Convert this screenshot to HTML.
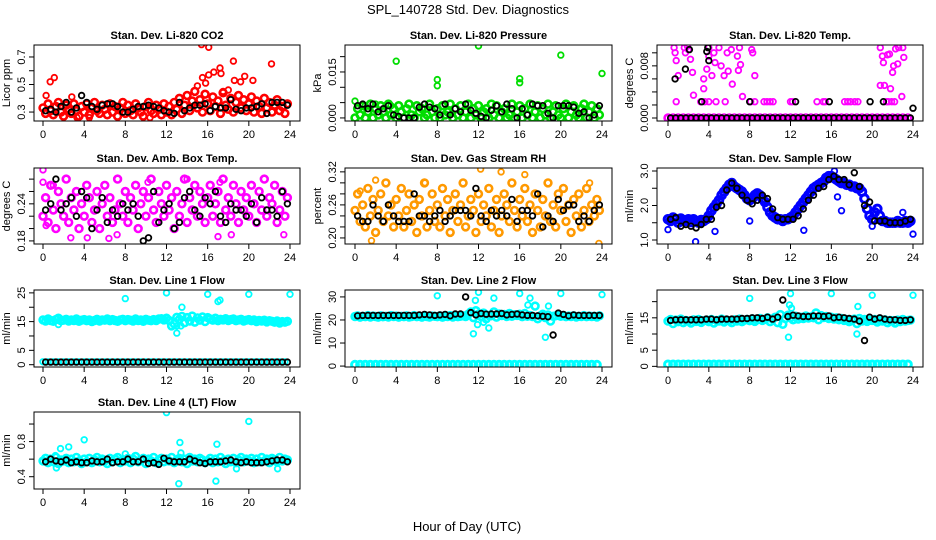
<!DOCTYPE html>
<html><head><meta charset="utf-8"><style>
html,body{margin:0;padding:0;background:#fff}
svg{display:block;font-family:"Liberation Sans",sans-serif}
</style></head><body>
<svg id="chart" width="936" height="540" viewBox="0 0 936 540">
<text x="468" y="14" text-anchor="middle" font-size="13">SPL_140728  Std. Dev. Diagnostics</text>
<text x="467" y="531" text-anchor="middle" font-size="13">Hour of Day (UTC)</text>
<g id="panels"></g>
</svg>
<script>
const cStep = 0.25;
const kStep = 0.5;
const xTicks = [0,4,8,12,16,20,24];

const co2C = [0.33,0.29,0.36,0.31,0.28,0.34,0.37,0.30,0.27,0.35,0.32,0.29,0.36,0.31,0.27,0.34,
0.30,0.36,0.28,0.33,0.37,0.31,0.29,0.35,0.32,0.28,0.36,0.30,0.34,0.27,0.33,0.37,
0.29,0.35,0.31,0.28,0.36,0.33,0.30,0.27,0.34,0.37,0.31,0.29,0.35,0.32,0.28,0.36,
0.30,0.34,0.28,0.37,0.32,0.40,0.29,0.35,0.42,0.31,0.38,0.45,0.33,0.39,0.30,0.43,
0.36,0.31,0.41,0.34,0.38,0.29,0.44,0.35,0.32,0.40,0.30,0.37,0.42,0.33,0.39,0.31,
0.36,0.41,0.30,0.38,0.34,0.29,0.40,0.33,0.37,0.30,0.35,0.39,0.31,0.34,0.29,0.36];
const co2O = [[0.3,0.42],[0.7,0.52],[1.1,0.55],[2.8,0.41],[3.3,0.26],[15.4,0.79],[16.1,0.77],[15.5,0.55],[15.8,0.51],[16.1,0.57],[16.6,0.59],[17.2,0.62],[17.3,0.58],[18.5,0.67],[18.6,0.53],[19.2,0.52],[19.6,0.56],[20.4,0.53],[22.2,0.65],[15,0.49],[17.5,0.45],[18,0.46],[10.4,0.26],[4.5,0.26]];
const co2K = [0.31,0.32,0.30,0.34,0.37,0.30,0.33,0.42,0.37,0.34,0.32,0.35,0.36,0.36,0.34,0.30,0.30,0.32,0.34,0.34,0.35,0.34,0.33,0.31,0.30,0.29,0.37,0.31,0.33,0.35,0.35,0.36,0.31,0.34,0.33,0.33,0.39,0.32,0.31,0.33,0.33,0.34,0.36,0.29,0.37,0.37,0.37,0.35];

const presC = [0,0.003,0.001,0.004,0,0.002,0.0045,0,0.003,0.001,0.004,0.002,0,0.0045,0.001,0.003,
0,0.004,0.002,0,0.003,0.0045,0.001,0,0.004,0.002,0.003,0,0.001,0.0045,0.002,0,
0.003,0,0.004,0.001,0.002,0.0045,0,0.003,0.001,0.004,0,0.002,0.0045,0,0.003,0.001,
0.004,0,0.002,0.003,0,0.0045,0.001,0.004,0,0.002,0.003,0,0.001,0.0045,0,0.002,
0.004,0,0.003,0.001,0.0045,0,0.002,0.004,0,0.003,0.001,0.0045,0,0.002,0.004,0.001,
0,0.003,0.0045,0,0.002,0.004,0.001,0,0.003,0.0045,0,0.002,0.004,0,0.003,0.001];
const presO = [[0,0.0055],[4,0.0185],[8,0.0125],[8,0.0105],[12,0.0235],[16,0.0115],[16,0.0128],[20,0.0205],[24,0.0145],[1,0.004],[2,0.0045],[3.5,0.004]];
const presK = [0.004,0.0045,0.003,0.0045,0.002,0.003,0.004,0.001,0.0005,0,0,0,0.0035,0.0045,0.0035,0.003,0.001,0.0045,0.001,0.003,0.002,0.0045,0.0025,0.0015,0.0005,0,0.0025,0.004,0.002,0.0045,0.003,0,0.003,0.001,0.0045,0.004,0.004,0.0015,0,0.004,0.004,0.004,0.0035,0.0015,0.002,0,0.001,0.004];

const tempC = [0,0,0,0,0,0,0,0,0,0,0,0,0,0,0,0,0,0,0,0,0,0,0,0,0,0,0,0,0,0,0,0,0,0,0,0,0,0,0,0,0,0,0,0,0,0,0,0];
const tempMidX = [0.8,3.2,3.6,4,4.7,5.6,8.1,8.5,9.4,9.7,10,10.3,12,12.2,14.6,15.2,15.4,17.3,17.6,17.9,18.3,18.6,21.4,21.6,21.9,22.2];
const tempMidY = [0.0025,0.0025,0.0025,0.0025,0.0025,0.0025,0.0025,0.0025,0.0025,0.0025,0.0025,0.0025,0.0025,0.0025,0.0025,0.0025,0.0025,0.0025,0.0025,0.0025,0.0025,0.0025,0.0025,0.0025,0.0025,0.0025];
const tempO = [[0.6,0.0108],[0.7,0.0100],[0.8,0.0088],[1.0,0.0065],[1.6,0.0108],[1.7,0.0100],[1.9,0.0110],[2.0,0.0105],[2.2,0.0090],[2.4,0.0070],[2.5,0.0035],[3.5,0.0045],[3.5,0.0060],[3.8,0.0075],[4.0,0.0108],[4.0,0.0095],[4.3,0.0065],[4.5,0.0100],[4.6,0.0085],[5.0,0.0108],[5.2,0.0080],[5.5,0.0065],[5.8,0.0100],[5.9,0.0072],[6.2,0.0105],[6.3,0.0052],[6.8,0.0095],[6.9,0.0073],[7.0,0.0108],[7.1,0.0082],[7.3,0.0033],[8.2,0.0105],[8.3,0.0100],[8.5,0.0065],[20.8,0.0108],[21,0.0095],[21.1,0.0085],[20.8,0.005],[21.2,0.005],[21.5,0.0097],[21.7,0.0098],[21.8,0.0045],[22,0.007],[22.1,0.0080],[22.3,0.0106],[22.5,0.0083],[22.6,0.0108],[22.9,0.0033],[23,0.0108],[23.1,0.0093]];
const tempK = [0,0,0,0,0,0,0,0,0,0,0,0,0,0,0,0,0,0,0,0,0,0,0,0,0,0,0,0,0,0,0,0,0,0,0,0,0,0,0,0,0,0,0,0,0,0,0,0];
const tempKO = [[0.7,0.006],[1.7,0.0075],[2.1,0.0105],[3.3,0.0025],[3.9,0.0108],[3.8,0.0102],[4.0,0.0088],[8.0,0.0025],[12.5,0.0025],[15.8,0.0025],[19.8,0.0025],[21.1,0.0025],[24,0.0015]];

const ambC = [0.22,0.25,0.21,0.27,0.23,0.20,0.26,0.24,0.22,0.28,0.21,0.25,0.23,0.26,0.20,0.24,
0.22,0.27,0.25,0.21,0.23,0.26,0.20,0.24,0.27,0.22,0.25,0.21,0.23,0.28,0.24,0.22,
0.26,0.21,0.25,0.23,0.27,0.20,0.24,0.26,0.22,0.25,0.28,0.23,0.21,0.26,0.24,0.22,
0.27,0.23,0.25,0.20,0.26,0.22,0.24,0.28,0.21,0.25,0.23,0.27,0.22,0.26,0.24,0.21,
0.25,0.27,0.22,0.24,0.26,0.21,0.28,0.23,0.25,0.22,0.27,0.24,0.21,0.26,0.23,0.25,
0.22,0.27,0.24,0.21,0.26,0.23,0.28,0.22,0.25,0.24,0.27,0.21,0.23,0.26,0.22,0.25];
const ambO = [[0,0.295],[0,0.275],[0.3,0.205],[2.7,0.185],[4.3,0.185],[6.4,0.184],[7.2,0.19],[10.2,0.275],[17,0.187],[18.3,0.19],[23.4,0.19],[1,0.27],[14,0.28],[17.2,0.275]];
const ambK = [0.23,0.24,0.28,0.23,0.24,0.25,0.22,0.26,0.25,0.20,0.23,0.25,0.21,0.23,0.22,0.24,0.23,0.24,0.22,0.18,0.185,0.26,0.21,0.23,0.24,0.20,0.21,0.25,0.26,0.23,0.22,0.25,0.24,0.26,0.22,0.21,0.24,0.23,0.23,0.22,0.24,0.21,0.25,0.23,0.23,0.22,0.26,0.24];

const rhC = [0.25,0.28,0.23,0.26,0.22,0.29,0.24,0.27,0.21,0.25,0.28,0.23,0.30,0.24,0.26,0.22,
0.27,0.24,0.29,0.22,0.25,0.28,0.23,0.26,0.21,0.27,0.24,0.30,0.22,0.25,0.28,0.23,
0.26,0.22,0.29,0.24,0.27,0.21,0.25,0.28,0.23,0.26,0.30,0.22,0.24,0.27,0.25,0.21,
0.28,0.23,0.26,0.24,0.29,0.22,0.25,0.27,0.21,0.24,0.28,0.26,0.23,0.30,0.25,0.22,
0.27,0.24,0.29,0.23,0.26,0.21,0.28,0.25,0.22,0.27,0.24,0.30,0.23,0.26,0.22,0.28,
0.25,0.29,0.23,0.26,0.21,0.27,0.24,0.28,0.22,0.25,0.29,0.23,0.26,0.24,0.27,0.25];
const rhO = [[1.6,0.195],[12.2,0.325],[14.2,0.32],[16.5,0.315],[2,0.305],[23.7,0.19],[22.8,0.30],[0.5,0.285],[6.8,0.30]];
const rhK = [0.24,0.23,0.23,0.26,0.24,0.23,0.26,0.24,0.23,0.23,0.23,0.28,0.24,0.24,0.23,0.24,0.25,0.23,0.24,0.25,0.25,0.25,0.24,0.29,0.24,0.23,0.25,0.24,0.25,0.24,0.27,0.23,0.25,0.25,0.24,0.28,0.22,0.24,0.23,0.27,0.25,0.26,0.26,0.23,0.24,0.23,0.25,0.26];

const flowC = [1.6,1.55,1.65,1.6,1.5,1.62,1.58,1.55,1.6,1.52,1.6,1.55,1.5,1.58,1.55,1.6,
1.7,1.85,1.95,2.05,2.15,2.3,2.4,2.5,2.6,2.65,2.55,2.5,2.45,2.4,2.3,2.2,
2.15,2.2,2.3,2.35,2.3,2.2,2.1,1.95,1.8,1.7,1.65,1.6,1.6,1.55,1.6,1.6,
1.65,1.7,1.8,1.9,2.0,2.1,2.2,2.3,2.4,2.5,2.55,2.6,2.65,2.7,2.8,2.85,
2.85,2.8,2.75,2.7,2.65,2.65,2.6,2.6,2.55,2.55,2.5,2.5,2.4,2.2,1.9,1.7,
1.6,1.8,1.9,1.7,1.55,1.55,1.5,1.5,1.5,1.5,1.55,1.5,1.5,1.55,1.5,1.55];
const flowO = [[0,1.3],[2.7,0.95],[4.6,1.25],[8,1.55],[13.3,1.28],[16.6,2.25],[17,1.85],[23,1.8],[24,1.17],[20,1.4],[16.3,3.0]];
const flowK = [1.6,1.65,1.4,1.45,1.4,1.35,1.45,1.6,1.6,1.95,2.0,2.45,2.65,2.5,2.3,2.15,2.05,2.15,2.3,2.2,1.9,1.65,1.6,1.6,1.6,1.7,1.9,2.15,2.3,2.5,2.55,2.75,2.85,2.75,2.75,2.6,2.95,2.55,2.0,2.1,1.55,1.55,1.55,1.5,1.5,1.5,1.55,1.6];

const l1C = [15.6,15.2,15.9,15.4,15.1,15.7,16.2,15.3,15.5,15.8,15.2,15.6,15.4,15.9,15.1,15.5,
15.7,15.3,15.6,15.0,15.4,15.8,15.2,15.6,15.5,15.9,15.3,15.7,15.4,15.1,15.6,15.8,
15.3,15.7,15.5,15.2,15.9,15.4,15.6,15.1,15.8,15.5,15.3,15.7,15.4,15.9,16.0,15.6,
16.2,15.4,13.5,14.2,16.5,15.8,16.8,14.6,16.4,15.2,16.9,14.8,16.3,15.5,16.6,15.0,
16.4,15.9,15.5,16.2,15.3,15.8,15.6,16.0,15.4,15.7,15.9,15.3,15.6,15.8,15.2,15.5,
15.7,15.3,15.6,15.0,15.4,15.2,15.5,14.9,15.3,15.1,14.8,15.2,14.5,15.0,14.8,15.1];
const l1Low = [1,1,1,1,1,1,1,1,1,1,1,1,1,1,1,1,1,1,1,1,1,1,1,1,1,1,1,1,1,1,1,1,1,1,1,1,1,1,1,1,1,1,1,1,1,1,1,1];
const l1O = [[8,23],[12,25],[13,11],[13.5,20],[16,24.5],[17,22],[17.2,22.5],[20,24.5],[24,24.5],[13,13.5],[1.5,14],[13.4,13.5]];
const l1K = [0.9,0.9,0.9,0.9,0.9,0.9,0.9,0.9,0.9,0.9,0.9,0.9,0.9,0.9,0.9,0.9,0.9,0.9,0.9,0.9,0.9,0.9,0.9,0.9,0.9,0.9,0.9,0.9,0.9,0.9,0.9,0.9,0.9,0.9,0.9,0.9,0.9,0.9,0.9,0.9,0.9,0.9,0.9,0.9,0.9,0.9,0.9,0.9];

const l2C = [21.5,21.8,21.2,21.6,21.4,21.9,21.3,21.7,21.5,21.2,21.8,21.4,21.6,21.3,21.9,21.5,
21.7,21.2,21.6,21.4,21.8,21.3,21.5,21.9,21.4,21.6,21.2,21.8,21.5,21.3,21.7,21.6,
21.4,21.8,21.2,21.6,21.5,21.9,21.3,21.7,21.4,21.6,21.8,21.5,22.5,23.5,21.0,24.0,
22.5,21.5,23.0,20.5,22.0,21.8,23.5,21.2,22.6,21.9,22.4,21.5,22.8,21.6,22.3,22.0,
22.5,21.4,22.8,21.6,22.0,21.5,26.0,20.5,21.8,22.5,21.0,22.2,19.5,21.6,21.8,22.4,
21.6,21.9,21.4,21.7,21.5,21.8,21.3,21.6,21.5,21.9,21.4,21.7,21.5,21.6,21.3,21.8];
const l2Low = [0.6,0.6,0.6,0.6,0.6,0.6,0.6,0.6,0.6,0.6,0.6,0.6,0.6,0.6,0.6,0.6,0.6,0.6,0.6,0.6,0.6,0.6,0.6,0.6,0.6,0.6,0.6,0.6,0.6,0.6,0.6,0.6,0.6,0.6,0.6,0.6,0.6,0.6,0.6,0.6,0.6,0.6,0.6,0.6,0.6,0.6,0.6,0.6];
const l2O = [[8,30.5],[11.5,14],[12,32],[11.7,28.5],[13.5,29.5],[16,31.5],[17,29.5],[20,31.5],[24,31],[12.5,19],[18.5,12.5],[18.8,26],[13,16.5],[11.9,18],[16.8,26.5]];
const l2K = [21.8,22,22,22,22,22,22,22,22,22,22,22,22.2,22.4,22.2,22,22.2,22.4,21.8,22.6,22.6,30,23.2,22.2,22.8,22.5,22.6,22.6,22.8,22.2,22.4,22.6,22.2,22,22,21.8,21.6,21.4,13.5,23,22.4,21.8,22.2,22,22,22,22,22];

const l3C = [14.0,14.5,13.2,14.3,13.8,14.6,13.5,14.2,14.0,13.4,14.4,13.9,14.5,13.6,14.1,14.3,
13.8,14.5,13.4,14.2,14.0,14.6,13.7,14.3,14.1,13.5,14.4,14.0,14.6,13.8,14.3,14.5,
14.1,14.7,13.9,14.4,14.8,14.2,14.5,15.0,13.8,14.6,15.2,13.5,16.0,13.0,14.8,15.8,
15.0,14.4,15.5,14.6,15.2,14.8,15.6,14.9,15.3,15.0,16.5,14.4,15.7,15.1,15.4,14.8,
15.2,14.6,15.0,14.4,14.8,14.2,14.5,13.8,14.4,14.6,13.2,14.8,14.0,14.5,13.9,14.3,
14.2,14.5,13.7,14.3,14.0,14.4,13.5,14.2,14.1,13.4,14.3,13.8,14.5,14.0,14.2,14.3];
const l3Low = [0.6,0.6,0.6,0.6,0.6,0.6,0.6,0.6,0.6,0.6,0.6,0.6,0.6,0.6,0.6,0.6,0.6,0.6,0.6,0.6,0.6,0.6,0.6,0.6,0.6,0.6,0.6,0.6,0.6,0.6,0.6,0.6,0.6,0.6,0.6,0.6,0.6,0.6,0.6,0.6,0.6,0.6,0.6,0.6,0.6,0.6,0.6,0.6];
const l3O = [[8,21],[11.8,9],[12,22.5],[16,22.5],[20,22],[24,22],[18.5,10],[18.6,18.5],[11.9,19],[12.1,18]];
const l3K = [14.2,14.4,14.4,14.4,14.4,14.4,14.4,14.6,14.6,14.4,14.6,14.6,14.6,14.6,14.8,14.8,15,15,14.8,15.2,14.6,15.2,20.5,15.4,15.8,15.6,15.4,15.4,15.6,15.6,15.4,15.6,15,15.2,15,14.8,14.6,14,8,15.2,14.6,15,14.6,14.4,14.4,14.2,14.2,14.4];

const l4C = [0.58,0.61,0.56,0.60,0.57,0.62,0.55,0.59,0.58,0.61,0.56,0.60,0.57,0.62,0.58,0.55,
0.60,0.57,0.61,0.56,0.59,0.62,0.57,0.60,0.58,0.55,0.61,0.57,0.60,0.62,0.56,0.59,
0.58,0.61,0.56,0.60,0.63,0.57,0.59,0.61,0.55,0.60,0.58,0.62,0.56,0.59,0.61,0.57,
0.60,0.58,0.62,0.56,0.59,0.61,0.57,0.60,0.55,0.62,0.58,0.60,0.57,0.61,0.59,0.56,
0.58,0.61,0.56,0.60,0.57,0.62,0.58,0.55,0.60,0.57,0.61,0.56,0.59,0.62,0.57,0.60,
0.58,0.61,0.56,0.60,0.57,0.62,0.58,0.60,0.56,0.61,0.59,0.57,0.62,0.58,0.60,0.59];
const l4O = [[1.3,0.5],[1.7,0.72],[2.5,0.74],[4,0.82],[8,0.66],[12,1.13],[11.4,0.21],[13.2,0.32],[13.3,0.79],[13.4,0.67],[16.8,0.35],[16.9,0.77],[18.8,0.49],[20,1.03],[22.8,0.49],[1.2,0.64]];
const l4K = [0.57,0.6,0.58,0.57,0.59,0.56,0.57,0.56,0.56,0.58,0.57,0.57,0.6,0.56,0.57,0.57,0.6,0.57,0.57,0.6,0.55,0.56,0.54,0.61,0.58,0.57,0.57,0.57,0.6,0.58,0.56,0.55,0.57,0.57,0.57,0.58,0.59,0.57,0.56,0.57,0.56,0.56,0.56,0.57,0.58,0.59,0.59,0.57];

const co2Ticks=[0.3,0.4,0.5,0.6,0.7], co2Labels=[0.3,0.5,0.7];
const presTicks=[0,0.005,0.010,0.015,0.020], presLabels=[0,0.015];
const tempTicks=[0,0.002,0.004,0.006,0.008,0.010], tempLabels=[0,0.008];
const ambTicks=[0.18,0.20,0.22,0.24,0.26,0.28], ambLabels=[0.18,0.24];
const rhTicks=[0.20,0.22,0.24,0.26,0.28,0.30,0.32], rhLabels=[0.20,0.26,0.32];
const flowTicks=[1,1.5,2,2.5,3], flowLabels=[1,2,3];
const l1Ticks=[0,5,10,15,20,25], l1Labels=[0,5,15,25];
const l2Ticks=[0,10,20,30], l2Labels=[0,10,20,30];
const l3Ticks=[0,5,10,15,20], l3Labels=[0,5,15];
const l4Ticks=[0.4,0.6,0.8,1.0], l4Labels=[0.4,0.8];

const NS='http://www.w3.org/2000/svg';
const root=document.getElementById('panels');
function mk(tag,attrs,parent){const e=document.createElementNS(NS,tag);for(const k in attrs)e.setAttribute(k,attrs[k]);parent.appendChild(e);return e;}
const cols=[{l:34,r:300,x0:43,x24:290},{l:345,r:612,x0:355,x24:602},{l:657,r:923,x0:668,x24:913}];
const rows=[{t:45,b:121},{t:168,b:244},{t:290,b:367},{t:412,b:489}];

function panel(id,title,ylab,ci,ri,ylo,yhi,ticks,labels,fmt,series){
  const c=cols[ci],r=rows[ri];
  const g=mk('g',{},root);
  
  
  const sx=h=>c.x0+h*(c.x24-c.x0)/24;
  const sy=v=>r.b-(v-ylo)/(yhi-ylo)*(r.b-r.t);
  const t=mk('text',{x:(c.l+c.r)/2,y:r.t-6,'text-anchor':'middle','font-size':'11','font-weight':'bold'},g);
  
  
  t.textContent=title;
  const yl=mk('text',{x:0,y:0,transform:`translate(${c.l-24},${(r.t+r.b)/2}) rotate(-90)`,'text-anchor':'middle','font-size':'11'},g);
  
  
  yl.textContent=ylab;
  const clip=mk('clipPath',{id:'clip-'+id},g);
  mk('rect',{x:c.l,y:r.t,width:c.r-c.l,height:r.b-r.t},clip);
  const pts=mk('g',{'clip-path':`url(#clip-${id})`,fill:'none'},g);
  series.forEach(s=>{
    const sg=mk('g',{stroke:s.color,'stroke-width':s.sw||1.8},pts);
    
    
    const add=(h,v)=>{const e=mk('circle',{cx:sx(h).toFixed(1),cy:sy(v).toFixed(1),r:s.r||2.8},sg);
      
      };
    if(s.vals) s.vals.forEach((v,i)=>add(i*s.step+(s.off||0),v));
    if(s.xs) s.xs.forEach((h,i)=>add(h,s.ys[i]));
    if(s.pairs) s.pairs.forEach(p=>add(p[0],p[1]));
  });
  const box=mk('rect',{x:c.l,y:r.t,width:c.r-c.l,height:r.b-r.t,fill:'none',stroke:'#000','stroke-width':1},g);
  
  
  const xa=mk('g',{stroke:'#000','stroke-width':1},g);
  
  
  mk('line',{x1:sx(0),x2:sx(24),y1:r.b,y2:r.b},xa);
  xTicks.forEach(h=>{mk('line',{x1:sx(h),x2:sx(h),y1:r.b,y2:r.b+5},xa);
    const tl=mk('text',{x:sx(h),y:r.b+17,'text-anchor':'middle','font-size':'11',stroke:'none',fill:'#000'},xa);
    
    
    tl.textContent=h;});
  const ya=mk('g',{stroke:'#000','stroke-width':1},g);
  
  
  mk('line',{x1:c.l,x2:c.l,y1:sy(ticks[0]),y2:sy(ticks[ticks.length-1])},ya);
  ticks.forEach(v=>mk('line',{x1:c.l-5,x2:c.l,y1:sy(v),y2:sy(v)},ya));
  labels.forEach(v=>{const tl=mk('text',{x:0,y:0,transform:`translate(${c.l-9},${sy(v)}) rotate(-90)`,'text-anchor':'middle','font-size':'11',stroke:'none',fill:'#000'},ya);
    
    
    tl.textContent=fmt(v);});
}
const f1=v=>v.toFixed(1), f2=v=>v.toFixed(2), f3=v=>v.toFixed(3), f0=v=>String(v);
const RED='#ff0000',GRN='#00dd00',MAG='#ff00ff',ORG='#ff9900',BLU='#0000ff',CYA='#00ffff',BLK='#000';
const CR=3.4, CW=2.6;

panel('co2','Stan. Dev. Li-820 CO2','Licor ppm',0,0,0.235,0.787,co2Ticks,co2Labels,f1,[
 {name:'all-data',color:RED,vals:co2C,step:cStep,r:CR,sw:CW},{name:'outliers',color:RED,pairs:co2O},{name:'hourly',color:BLK,vals:co2K,step:kStep,off:0.25}]);
panel('pressure','Stan. Dev. Li-820 Pressure','kPa',1,0,-0.001,0.0238,presTicks,presLabels,f3,[
 {name:'all-data',color:GRN,vals:presC,step:cStep,r:CR,sw:CW},{name:'outliers',color:GRN,pairs:presO},{name:'hourly',color:BLK,vals:presK,step:kStep,off:0.25}]);
panel('temp','Stan. Dev. Li-820 Temp.','degrees C',2,0,-0.00046,0.0112,tempTicks,tempLabels,f3,[
 {name:'all-data',color:MAG,vals:tempC,step:kStep,r:CR,sw:CW},{name:'mid',color:MAG,xs:tempMidX,ys:tempMidY},{name:'outliers',color:MAG,pairs:tempO},
 {name:'hourly',color:BLK,vals:tempK,step:kStep,off:0.25},{name:'hourly-high',color:BLK,pairs:tempKO}]);
panel('ambtemp','Stan. Dev. Amb. Box Temp.','degrees C',0,1,0.175,0.298,ambTicks,ambLabels,f2,[
 {name:'all-data',color:MAG,vals:ambC,step:cStep,r:CR,sw:CW},{name:'outliers',color:MAG,pairs:ambO},{name:'hourly',color:BLK,vals:ambK,step:kStep,off:0.25}]);
panel('rh','Stan. Dev. Gas Stream RH','percent',1,1,0.189,0.327,rhTicks,rhLabels,f2,[
 {name:'all-data',color:ORG,vals:rhC,step:cStep,r:CR,sw:CW},{name:'outliers',color:ORG,pairs:rhO},{name:'hourly',color:BLK,vals:rhK,step:kStep,off:0.25}]);
panel('sampleflow','Stan. Dev. Sample Flow','ml/min',2,1,0.884,3.087,flowTicks,flowLabels,f1,[
 {name:'all-data',color:BLU,vals:flowC,step:cStep,r:3.8,sw:3},{name:'outliers',color:BLU,pairs:flowO},{name:'hourly',color:BLK,vals:flowK,step:kStep,off:0.25}]);
panel('line1','Stan. Dev. Line 1 Flow','ml/min',0,2,-0.8,26,l1Ticks,l1Labels,f0,[
 {name:'all-data',color:CYA,vals:l1C,step:cStep,r:CR,sw:CW},{name:'low',color:CYA,vals:l1Low,step:kStep},{name:'outliers',color:CYA,pairs:l1O},{name:'hourly',color:BLK,vals:l1K,step:kStep,off:0.25}]);
panel('line2','Stan. Dev. Line 2 Flow','ml/min',1,2,-0.4,33,l2Ticks,l2Labels,f0,[
 {name:'all-data',color:CYA,vals:l2C,step:cStep,r:CR,sw:CW},{name:'low',color:CYA,vals:l2Low,step:kStep,r:3.4,sw:3},{name:'outliers',color:CYA,pairs:l2O},{name:'hourly',color:BLK,vals:l2K,step:kStep,off:0.25}]);
panel('line3','Stan. Dev. Line 3 Flow','ml/min',2,2,-0.2,23.6,l3Ticks,l3Labels,f0,[
 {name:'all-data',color:CYA,vals:l3C,step:cStep,r:CR,sw:CW},{name:'low',color:CYA,vals:l3Low,step:kStep,r:3.4,sw:3},{name:'outliers',color:CYA,pairs:l3O},{name:'hourly',color:BLK,vals:l3K,step:kStep,off:0.25}]);
panel('line4','Stan. Dev. Line 4 (LT) Flow','ml/min',0,3,0.26,1.137,l4Ticks,l4Labels,f1,[
 {name:'all-data',color:CYA,vals:l4C,step:cStep,r:CR,sw:CW},{name:'outliers',color:CYA,pairs:l4O},{name:'hourly',color:BLK,vals:l4K,step:kStep,off:0.25}]);
</script>
</body></html>
